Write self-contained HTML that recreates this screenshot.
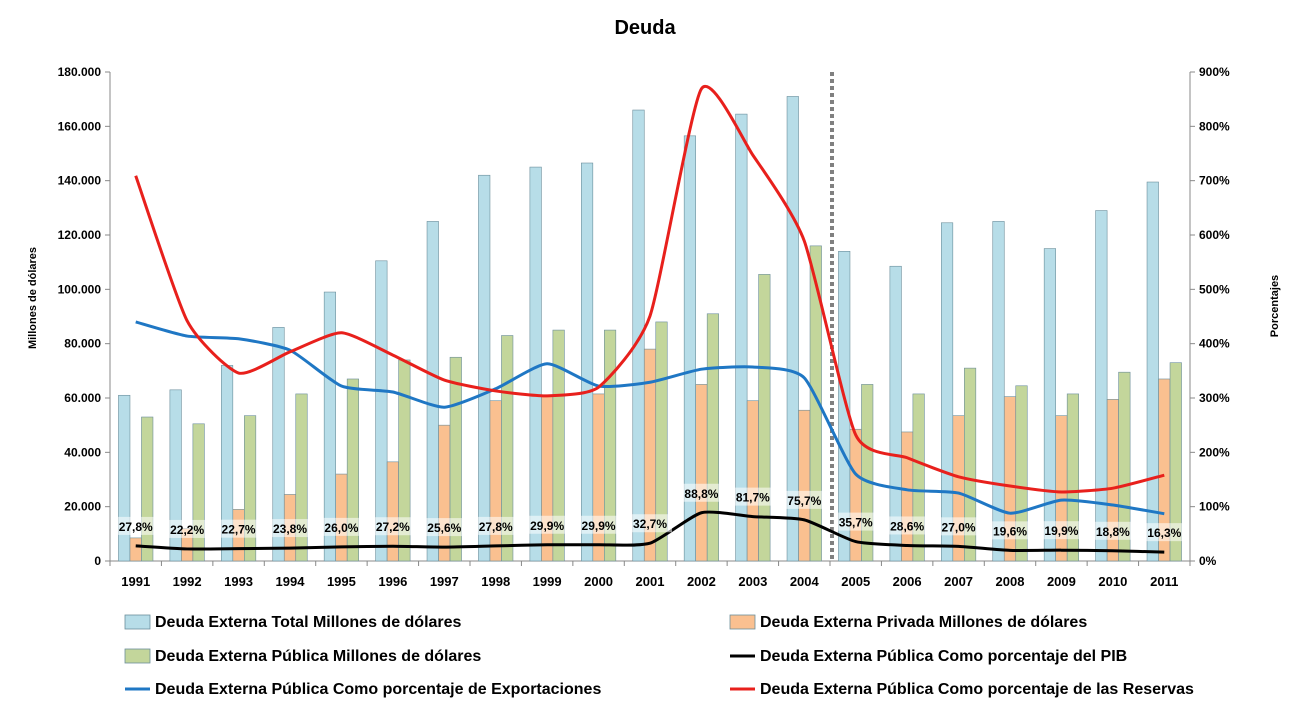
<!DOCTYPE html>
<html><head><meta charset="utf-8"><style>
body{margin:0;background:#fff;font-family:"Liberation Sans",Arial,sans-serif;}
svg text{font-family:"Liberation Sans",Arial,sans-serif;font-weight:bold;}
</style></head><body>
<svg id="chart" width="1290" height="722">
<text x="645" y="34" text-anchor="middle" font-size="20">Deuda</text>
<text transform="translate(36,298) rotate(-90)" text-anchor="middle" font-size="11">Millones de dólares</text>
<text transform="translate(1278,306) rotate(-90)" text-anchor="middle" font-size="11">Porcentajes</text>
<g id="plot"></g>
<g id="legend" font-size="16"></g>
</svg>
<script>
const years=["1991","1992","1993","1994","1995","1996","1997","1998","1999","2000","2001","2002","2003","2004","2005","2006","2007","2008","2009","2010","2011"];
const totalDebt=[61,63,72,86,99,110.5,125,142,145,146.5,166,156.5,164.5,171,114,108.5,124.5,125,115,129,139.5];
const privateDebt=[8.5,12,19,24.5,32,36.5,50,59,61,61.5,78,65,59,55.5,48.5,47.5,53.5,60.5,53.5,59.5,67];
const publicDebt=[53,50.5,53.5,61.5,67,74,75,83,85,85,88,91,105.5,116,65,61.5,71,64.5,61.5,69.5,73];
const pctPIB=[27.8,22.2,22.7,23.8,26.0,27.2,25.6,27.8,29.9,29.9,32.7,88.8,81.7,75.7,35.7,28.6,27.0,19.6,19.9,18.8,16.3];
const pctExports=[440,414,409,388,322,311,283,317,363,322,329,353,357,337,160,131,125,88,112,103,87];
const pctReserves=[709,442,346,385,420,379,333,313,304,320,451,869,747,589,232,190,155,138,127,134,158];
const leftTicks=[0,20,40,60,80,100,120,140,160,180];
const rightTicks=[0,100,200,300,400,500,600,700,800,900];

const NS="http://www.w3.org/2000/svg";
const X0=110,X1=1190,Y0=561,Y1=72;
const band=(X1-X0)/years.length;
const yL=v=>Y0-(v/180)*(Y0-Y1);
const yR=v=>Y0-(v/900)*(Y0-Y1);
const xC=i=>X0+band*(i+0.5);
const plot=document.getElementById('plot');
function mk(tag,attrs,parent){const e=document.createElementNS(NS,tag);for(const k in attrs)e.setAttribute(k,attrs[k]);(parent||plot).appendChild(e);return e;}
function fmtK(v){return v===0?"0":v+".000";}

let e=mk('line',{x1:X0,y1:Y1,x2:X0,y2:Y0,stroke:'#888'});


e=mk('line',{x1:X1,y1:Y1,x2:X1,y2:Y0,stroke:'#888'});


e=mk('line',{x1:X0,y1:Y0,x2:X1,y2:Y0,stroke:'#888'});


leftTicks.forEach(t=>{const y=yL(t);mk('line',{x1:X0-5,y1:y,x2:X0,y2:y,stroke:'#888'});
 const tx=mk('text',{x:X0-9,y:y+4,'text-anchor':'end','font-size':12});tx.textContent=fmtK(t);
 
 });
rightTicks.forEach(t=>{const y=yR(t);mk('line',{x1:X1,y1:y,x2:X1+5,y2:y,stroke:'#888'});
 const tx=mk('text',{x:X1+9,y:y+4,'font-size':12});tx.textContent=t+'%';
 
 });
for(let i=0;i<=years.length;i++){const x=X0+band*i;mk('line',{x1:x,y1:Y0,x2:x,y2:Y0+5,stroke:'#888'});}
years.forEach((yr,i)=>{const tx=mk('text',{x:xC(i),y:586,'text-anchor':'middle','font-size':13});tx.textContent=yr;
 
 });

const bw=11.5;
const series=[[totalDebt,'#b7dde8','bar-total'],[privateDebt,'#fac090','bar-private'],[publicDebt,'#c3d69b','bar-public']];
years.forEach((yr,i)=>{series.forEach((s,j)=>{const x=xC(i)-1.5*bw+j*bw;const y=yL(s[0][i]);
 const r=mk('rect',{x:x,y:y,width:bw,height:Y0-y,fill:s[1],stroke:'#6b8e9b','stroke-width':0.6});
 
 });});

e=mk('line',{x1:832,y1:Y1,x2:832,y2:Y0,stroke:'#808080','stroke-width':4,'stroke-dasharray':'4,3'});



function smooth(pts){let d=`M${pts[0][0]},${pts[0][1]}`;for(let i=0;i<pts.length-1;i++){const p0=pts[i-1]||pts[i],p1=pts[i],p2=pts[i+1],p3=pts[i+2]||p2;const t=10;
 d+=` C${p1[0]+(p2[0]-p0[0])/t},${p1[1]+(p2[1]-p0[1])/t} ${p2[0]-(p3[0]-p1[0])/t},${p2[1]-(p3[1]-p1[1])/t} ${p2[0]},${p2[1]}`;}return d;}
const lines=[[pctExports,'#1f77c4','line-exports'],[pctReserves,'#e8201c','line-reserves'],[pctPIB,'#000','line-pib']];
lines.forEach(l=>{const p=mk('path',{d:smooth(l[0].map((v,i)=>[xC(i),yR(v)])),fill:'none',stroke:l[1],'stroke-width':3});
 
 });

pctPIB.forEach((v,i)=>{const y=yR(v)-18;const txt=v.toFixed(1).replace('.',',')+'%';
 const bg=mk('rect',{x:xC(i)-22,y:y-11,width:44,height:18,fill:'#fff','fill-opacity':0.55});
 
 
 const tx=mk('text',{x:xC(i),y:y+3,'text-anchor':'middle','font-size':12});tx.textContent=txt;
 
 });

const lg=document.getElementById('legend');
const items=[['rect','#b7dde8','Deuda Externa Total Millones de dólares',125,622,'legend-total'],
 ['rect','#fac090','Deuda Externa Privada Millones de dólares',730,622,'legend-private'],
 ['rect','#c3d69b','Deuda Externa Pública Millones de dólares',125,656,'legend-public'],
 ['line','#000','Deuda Externa Pública Como porcentaje del PIB',730,656,'legend-pib'],
 ['line','#1f77c4','Deuda Externa Pública Como porcentaje de Exportaciones',125,689,'legend-exports'],
 ['line','#e8201c','Deuda Externa Pública Como porcentaje de las Reservas',730,689,'legend-reserves']];
items.forEach(it=>{const g=mk('g',{},lg);
 
 
 if(it[0]==='rect')mk('rect',{x:it[3],y:it[4]-7,width:25,height:14,fill:it[1],stroke:'#6b8e9b','stroke-width':0.8},g);
 else mk('line',{x1:it[3],y1:it[4],x2:it[3]+25,y2:it[4],stroke:it[1],'stroke-width':3},g);
 const t=mk('text',{x:it[3]+30,y:it[4]+5,'font-size':16},g);t.textContent=it[2];});
</script>
</body></html>
